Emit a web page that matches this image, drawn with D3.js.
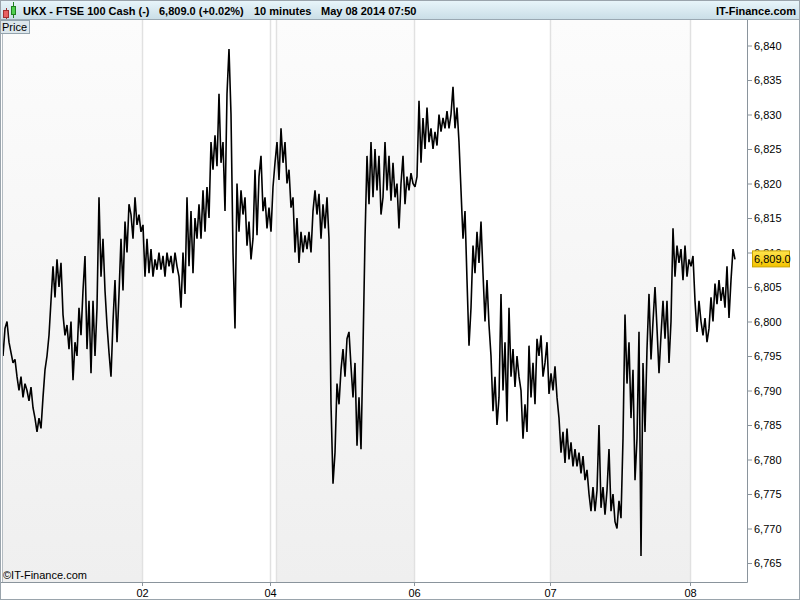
<!DOCTYPE html>
<html lang="en">
<head>
  <meta charset="UTF-8">
  <title>UKX - FTSE 100 Cash</title>
  <script src="https://cdn.jsdelivr.net/npm/d3@7"></script>
  <style>
    body { margin: 0; background: #fff; }
    svg { display: block; font-family: "Liberation Sans", Arial, sans-serif; }
  </style>
</head>
<body>
  <svg id="chart" width="800" height="600"></svg>
<script>
  // 10 minute closes, one array per trading day
  var day01 = [6795, 6799, 6800, 6797, 6795.5, 6794, 6794.5, 6792, 6790, 6792, 6789, 6791, 6790, 6788.5, 6790.5, 6787.5, 6786, 6784, 6786, 6784.5,
    6789, 6793, 6795, 6798, 6803, 6808, 6803.5, 6809, 6805, 6808.5, 6801, 6798, 6799.5, 6796, 6800, 6791.5, 6797, 6795, 6802, 6798,
    6804.5, 6809.5, 6796, 6803, 6792.5, 6803, 6795, 6802, 6818, 6806.5, 6812, 6804.5, 6799.5, 6795.5, 6792, 6800, 6806, 6797, 6804, 6812,
    6804.5, 6814.5, 6810, 6817, 6815.5, 6812, 6818, 6814, 6815.5, 6813];
  var day02 = [6814, 6806.5, 6812, 6807, 6810.5, 6806.5, 6809, 6807.5, 6810, 6807.5, 6809.5, 6806.5, 6810, 6808, 6809.5, 6807, 6810, 6808, 6806.5, 6802,
    6810, 6804, 6818, 6808, 6816, 6807, 6815, 6812, 6817, 6812, 6819, 6813, 6819.5, 6815, 6826, 6822, 6827, 6822.5, 6833, 6823,
    6826, 6816, 6833, 6839.5, 6830, 6810, 6799, 6820, 6813, 6819, 6815.5, 6818, 6811, 6814.5, 6809, 6812, 6822, 6812.5, 6821, 6824,
    6816, 6818, 6813.5, 6816.5];
  var day04 = [6813, 6819.5, 6823];
  var day05 = [6826, 6820.5, 6828, 6823, 6826, 6820, 6822, 6816.5, 6818, 6810, 6815, 6808.5, 6813, 6810, 6812.5, 6810.5, 6813, 6810, 6816, 6819,
    6815.5, 6818.5, 6812, 6817, 6813.5, 6818, 6812, 6788, 6776.5, 6781, 6791, 6788, 6793, 6796, 6792, 6797.5, 6798.5, 6793.5, 6789, 6794,
    6782, 6789, 6781.5, 6796, 6812, 6824, 6817, 6826, 6818, 6825, 6819, 6824, 6815.5, 6818, 6826, 6819, 6824, 6817.5, 6823, 6818,
    6820, 6813.5, 6820, 6824, 6817, 6821, 6819, 6821.5, 6820];
  var day06 = [6819.5, 6821, 6832, 6823, 6829.5, 6825, 6831, 6826, 6828, 6825, 6827.5, 6825.5, 6830, 6827.5, 6829.5, 6828, 6830.5, 6828, 6830, 6834,
    6828, 6831, 6826, 6819, 6812, 6816, 6806, 6796.5, 6802, 6811, 6807, 6813, 6808.5, 6814.5, 6807, 6800, 6806, 6799.5, 6795, 6787,
    6792, 6785, 6789, 6804, 6790, 6797, 6785.5, 6802, 6792, 6796, 6790.5, 6795, 6792, 6790, 6783, 6788, 6784, 6796.5, 6789, 6794,
    6788, 6797.5, 6795, 6798, 6792, 6794, 6797, 6789.5];
  var day07 = [6792.5, 6790, 6793.5, 6789, 6786, 6781, 6784, 6779.5, 6784.5, 6780, 6782.5, 6779, 6781.5, 6779, 6781, 6778, 6780.5, 6777, 6778.5, 6775,
    6772.5, 6776, 6772.5, 6775.5, 6785, 6773, 6776, 6772, 6775.5, 6781.5, 6772.5, 6775, 6771, 6770, 6774, 6771.5, 6783, 6801, 6791, 6797,
    6786, 6793, 6777, 6783, 6798.5, 6766, 6794, 6784, 6796, 6804, 6794.5, 6800, 6805, 6799, 6792.5, 6798, 6803, 6797.5, 6803, 6794,
    6800, 6813.5, 6806.5, 6811, 6808.5, 6810.5, 6806, 6811, 6806.5, 6809];
  var day08 = [6808, 6809.5, 6803, 6798.5, 6803, 6800, 6798, 6800.5, 6797, 6799, 6803.5, 6800, 6805.5, 6802.5, 6806, 6803, 6805, 6802, 6808, 6800.5,
    6806, 6810.5, 6809];

  var days = [day01, day02, day04, day05, day06, day07, day08];
  var dayNames = ["01", "02", "04", "05", "06", "07", "08"];
  var dayLabels = ["02", "04", "06", "07", "08"];
  var shadedDays = ["01", "05", "07"];
  var priceTicks = [6765, 6770, 6775, 6780, 6785, 6790, 6795, 6800, 6805, 6810, 6815, 6820, 6825, 6830, 6835, 6840];
  var lastPrice = 6809.0;
  var headerItems = ["UKX - FTSE 100 Cash (-)", "6,809.0 (+0.02%)", "10 minutes", "May 08 2014 07:50"];

  var prices = [];
  var dayStarts = [];
  days.forEach(function (d) {
    dayStarts.push(prices.length);
    prices = prices.concat(d);
  });

  var plot = { left: 2, right: 747, top: 20, bottom: 582 };

  var svg = d3.select("#chart");
  var defs = svg.append("defs");

  var hg = defs.append("linearGradient").attr("id", "head").attr("x1", 0).attr("y1", 0).attr("x2", 0).attr("y2", 1);
  hg.append("stop").attr("offset", "0%").attr("stop-color", "#e9f6fb");
  hg.append("stop").attr("offset", "100%").attr("stop-color", "#c9dde6");

  var bg = defs.append("linearGradient").attr("id", "band").attr("x1", 0).attr("y1", 0).attr("x2", 0).attr("y2", 1);
  bg.append("stop").attr("offset", "0%").attr("stop-color", "#fcfcfc");
  bg.append("stop").attr("offset", "100%").attr("stop-color", "#efefef");

  var tg = defs.append("linearGradient").attr("id", "tag").attr("x1", 0).attr("y1", 0).attr("x2", 0).attr("y2", 1);
  tg.append("stop").attr("offset", "0%").attr("stop-color", "#ffe44d");
  tg.append("stop").attr("offset", "100%").attr("stop-color", "#f3c300");

  defs.append("clipPath").attr("id", "clip").append("rect")
    .attr("x", plot.left).attr("y", plot.top)
    .attr("width", plot.right - plot.left).attr("height", plot.bottom - plot.top);

  var x = d3.scaleLinear().domain([0, prices.length - 1]).range([3, 735]);
  var y = d3.scaleLinear().domain([6765, 6840]).range([563, 45.5]);

  // day bands
  var bounds = dayStarts.map(function (s, i) { return i === 0 ? plot.left : x(s - 0.5); });
  bounds.push(plot.right);

  svg.append("g").selectAll("rect").data(dayNames).enter().append("rect")
    .attr("x", function (d, i) { return bounds[i]; })
    .attr("y", plot.top)
    .attr("width", function (d, i) { return bounds[i + 1] - bounds[i]; })
    .attr("height", plot.bottom - plot.top)
    .attr("fill", function (d) { return shadedDays.indexOf(d) >= 0 ? "url(#band)" : "#fff"; });

  svg.append("g").selectAll("line").data(dayStarts.slice(1)).enter().append("line")
    .attr("x1", function (d) { return Math.round(x(d - 0.5)) + 0.5; })
    .attr("x2", function (d) { return Math.round(x(d - 0.5)) + 0.5; })
    .attr("y1", plot.top).attr("y2", plot.bottom)
    .attr("stroke", "#e1e1e1").attr("stroke-width", 1.5);

  // price line
  var line = d3.line()
    .x(function (d, i) { return x(i); })
    .y(function (d) { return y(d); });

  svg.append("path")
    .datum(prices)
    .attr("clip-path", "url(#clip)")
    .attr("d", line)
    .attr("fill", "none")
    .attr("stroke", "#000")
    .attr("stroke-width", 1.6)
    .attr("stroke-linejoin", "miter")
    .attr("stroke-miterlimit", 2);

  // axes
  var yAxis = d3.axisRight(y).tickValues(priceTicks).tickFormat(d3.format(",")).tickSize(5).tickPadding(2);
  var gy = svg.append("g").attr("transform", "translate(" + plot.right + ",0)").call(yAxis);
  gy.select(".domain").remove();
  gy.selectAll("line").attr("stroke", "#8a949c");
  gy.selectAll("text").attr("font-size", 11).attr("fill", "#000");

  var tickIdx = dayLabels.map(function (l) { return dayStarts[dayNames.indexOf(l)] - 0.5; });
  var xAxis = d3.axisBottom(x).tickValues(tickIdx)
    .tickFormat(function (d, i) { return dayLabels[i]; }).tickSize(4).tickPadding(3);
  var gx = svg.append("g").attr("transform", "translate(0," + plot.bottom + ")").call(xAxis);
  gx.select(".domain").remove();
  gx.selectAll("line").attr("stroke", "#8a949c");
  gx.selectAll("text").attr("font-size", 11).attr("fill", "#000");

  svg.append("line").attr("x1", 0).attr("x2", plot.right + 0.5).attr("y1", plot.bottom + 0.5).attr("y2", plot.bottom + 0.5)
    .attr("stroke", "#8a949c");
  svg.append("line").attr("x1", plot.right + 0.5).attr("x2", plot.right + 0.5).attr("y1", plot.top).attr("y2", plot.bottom + 0.5)
    .attr("stroke", "#8a949c");
  svg.append("line").attr("x1", 2.5).attr("x2", 2.5).attr("y1", plot.top).attr("y2", plot.bottom)
    .attr("stroke", "#b4bcc2");

  // last price tag, covering most of the 6,810 label as in the source
  svg.append("rect").attr("x", 752.5).attr("y", y(lastPrice) - 8.5).attr("width", 37).attr("height", 16)
    .attr("fill", "url(#tag)").attr("stroke", "#c9a400");
  svg.append("text").attr("x", 754).attr("y", y(lastPrice) + 4).attr("font-size", 11)
    .text(d3.format(",.1f")(lastPrice));

  svg.append("text").attr("x", 3).attr("y", 579).attr("font-size", 11).text("\u00a9IT-Finance.com");

  // header bar
  svg.append("rect").attr("x", 0).attr("y", 0).attr("width", 800).attr("height", 20).attr("fill", "url(#head)");
  svg.append("line").attr("x1", 0).attr("x2", 800).attr("y1", 19.5).attr("y2", 19.5).attr("stroke", "#9aa8b2");

  var headX = [23, 159, 254, 321];
  svg.append("g").selectAll("text").data(headerItems).enter().append("text")
    .attr("x", function (d, i) { return headX[i]; })
    .attr("y", 15)
    .attr("font-size", 11).attr("font-weight", "bold")
    .text(function (d) { return d; });
  svg.append("text").attr("x", 796).attr("y", 15).attr("text-anchor", "end")
    .attr("font-size", 11).attr("font-weight", "bold").text("IT-Finance.com");

  // candle icon
  svg.append("line").attr("x1", 6.5).attr("x2", 6.5).attr("y1", 8).attr("y2", 19).attr("stroke", "#a03030");
  svg.append("rect").attr("x", 3.5).attr("y", 10.5).attr("width", 5).attr("height", 7).attr("fill", "#e86060").attr("stroke", "#a03030");
  svg.append("line").attr("x1", 13.5).attr("x2", 13.5).attr("y1", 2).attr("y2", 18).attr("stroke", "#208020");
  svg.append("rect").attr("x", 11.5).attr("y", 6.5).attr("width", 4).attr("height", 8).attr("fill", "#50d050").attr("stroke", "#208020");

  // pane label
  svg.append("rect").attr("x", 0.5).attr("y", 20.5).attr("width", 29).attr("height", 13)
    .attr("fill", "#dde7ec").attr("stroke", "#93a3ad");
  svg.append("text").attr("x", 2).attr("y", 31).attr("font-size", 11).text("Price");

  svg.append("rect").attr("x", 0.5).attr("y", 0.5).attr("width", 799).attr("height", 599)
    .attr("fill", "none").attr("stroke", "#9aa4ac");
</script>
</body>
</html>
